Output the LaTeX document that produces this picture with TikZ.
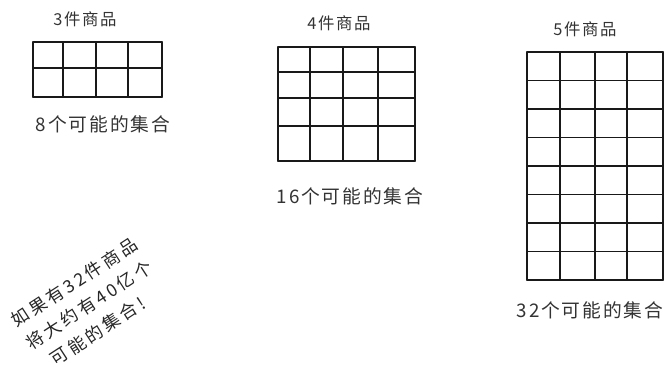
\documentclass[tikz,border=0pt]{standalone}
\usepackage{fontspec}
\newfontfamily\cjk[LetterSpace=10]{Noto Sans CJK SC}
\newfontfamily\cjknote[LetterSpace=17]{Noto Sans CJK SC}
\usetikzlibrary{positioning}
\tikzset{
    gridline/.style={
        line width=1.6pt,         % trazo grueso, como dibujado a mano
        line cap=round,
        draw=black!90
    },
    headlabel/.style={
        font=\cjk\fontsize{14}{16}\selectfont,
        text=black!80,
        inner sep=0pt
    },
    countlabel/.style={
        font=\cjk\fontsize{16}{18}\selectfont,
        text=black!80,
        inner sep=0pt
    },
    notelabel/.style={
        font=\cjknote\fontsize{15}{23}\selectfont,
        text=black!85,
        rotate=33,
        align=left,
        inner sep=0pt
    }
}

\begin{document}
\begin{tikzpicture}[x=0.03cm, y=-0.03cm]
    \useasboundingbox (0,0) rectangle (666,367);

    % 3 items: 4 columns x 2 rows
    \node[headlabel] (head3) at (85,19) {3件商品};
    \foreach \cx in {33,63,96,128,162}
        \draw[gridline] (\cx,42) -- (\cx,97);
    \foreach \ry in {42,68,97}
        \draw[gridline] (33,\ry) -- (162,\ry);
    \node[countlabel] (count3) at (103,124) {8个可能的集合};

    % 4 items: 4 columns x 4 rows
    \node[headlabel] (head4) at (339,23) {4件商品};
    \foreach \cx in {278,310,343,378,415}
        \draw[gridline] (\cx,47) -- (\cx,161);
    \foreach \ry in {47,72,98,126,161}
        \draw[gridline] (278,\ry) -- (415,\ry);
    \node[countlabel] (count4) at (350,196) {16个可能的集合};

    % 5 items: 4 columns x 8 rows
    \node[headlabel] (head5) at (585,29) {5件商品};
    \foreach \cx in {527,560,595,627,663}
        \draw[gridline] (\cx,52) -- (\cx,280);
    \foreach \k in {0,...,8}
        \draw[gridline] (527,{52+\k*28.5}) -- (663,{52+\k*28.5});
    \node[countlabel] (count5) at (590,310) {32个可能的集合};

    % nota girada
    \node[notelabel] (note) at (89,305) {如果有32件商品\\将大约有40亿个\\\hspace*{10pt}可能的集合!};
\end{tikzpicture}
\end{document}
